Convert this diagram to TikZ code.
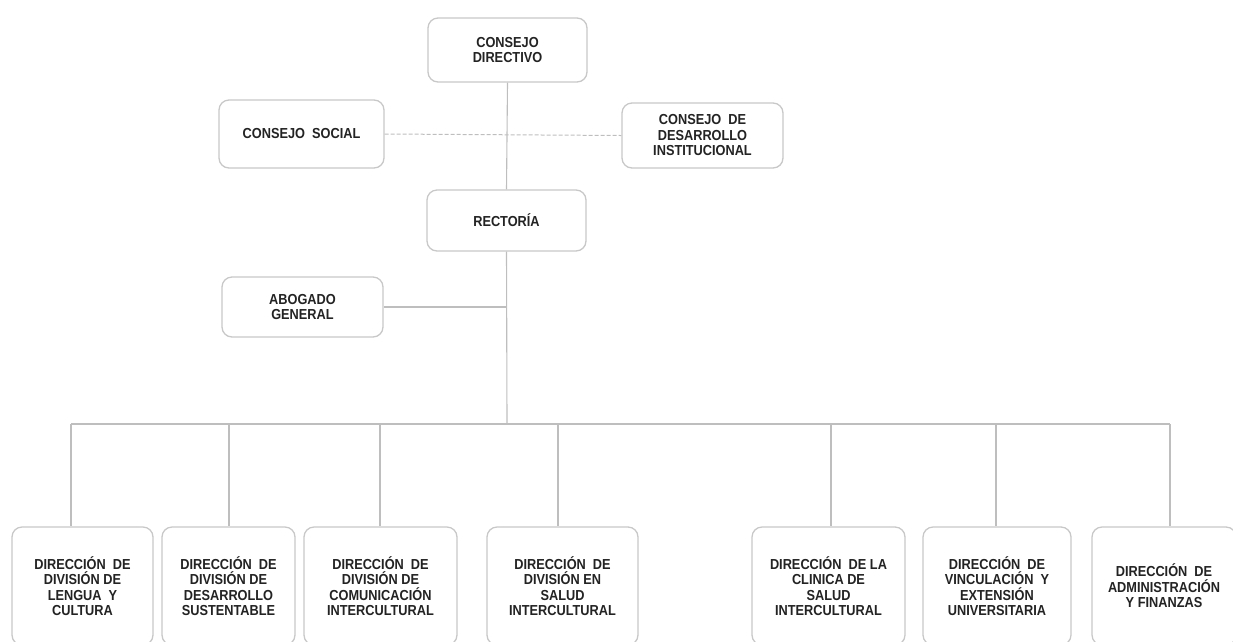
\documentclass[tikz,border=0pt]{standalone}
\usepackage{fontspec}
\newfontfamily\boxfont[FakeStretch=0.88]{Liberation Sans}
\definecolor{linegray}{RGB}{190,190,190}
\definecolor{boxgray}{RGB}{200,200,200}
\definecolor{txt}{RGB}{35,35,35}
\begin{document}
\begin{tikzpicture}[x=1pt,y=-1pt,
  orgbox/.style={draw=boxgray, line width=1.3pt, rounded corners=10pt, fill=white,
    align=center, inner sep=2pt, text=txt,
    font=\boxfont\bfseries\fontsize{14.5}{15.5}\selectfont},
  link/.style={draw=linegray, line width=1.1pt},
  dashlink/.style={draw=linegray, line width=1pt, dashed, dash pattern=on 4pt off 2pt}]
\useasboundingbox (0,0) rectangle (1233,641);
\clip (0,0) rectangle (1233,641);
% top level
\node[orgbox, minimum width=159pt, minimum height=64pt] (cd) at (507.5,50) {CONSEJO\\DIRECTIVO};
\node[orgbox, minimum width=165pt, minimum height=68pt] (cs) at (301.5,134) {CONSEJO\ \ SOCIAL};
\node[orgbox, minimum width=161pt, minimum height=65pt] (cdi) at (702.5,135.5) {CONSEJO\ \ DE\\DESARROLLO\\INSTITUCIONAL};
\node[orgbox, minimum width=159pt, minimum height=61pt] (rec) at (506.5,220.5) {RECTORÍA};
\node[orgbox, minimum width=161pt, minimum height=60pt] (abo) at (302.5,307) {ABOGADO\\GENERAL};
% bottom level
\node[orgbox, minimum width=141pt, minimum height=118pt] (b1) at (82.5,586) {DIRECCIÓN\ \ DE\\DIVISIÓN DE\\LENGUA\ \ Y\\CULTURA};
\node[orgbox, minimum width=133pt, minimum height=118pt] (b2) at (228.5,586) {DIRECCIÓN\ \ DE\\DIVISIÓN DE\\DESARROLLO\\SUSTENTABLE};
\node[orgbox, minimum width=153pt, minimum height=118pt] (b3) at (380.5,586) {DIRECCIÓN\ \ DE\\DIVISIÓN DE\\COMUNICACIÓN\\INTERCULTURAL};
\node[orgbox, minimum width=151pt, minimum height=118pt] (b4) at (562.5,586) {DIRECCIÓN\ \ DE\\DIVISIÓN EN\\SALUD\\INTERCULTURAL};
\node[orgbox, minimum width=153pt, minimum height=118pt] (b5) at (828.5,586) {DIRECCIÓN\ \ DE LA\\CLINICA DE\\SALUD\\INTERCULTURAL};
\node[orgbox, minimum width=148pt, minimum height=118pt] (b6) at (997,586) {DIRECCIÓN\ \ DE\\VINCULACIÓN\ \ Y\\EXTENSIÓN\\UNIVERSITARIA};
\node[orgbox, minimum width=144pt, minimum height=118pt] (b7) at (1164,586) {DIRECCIÓN\ \ DE\\ADMINISTRACIÓN\\Y FINANZAS};
% bus coordinates
\coordinate (busc) at (507,424);
\coordinate (d1) at (71,424);
\coordinate (d2) at (229,424);
\coordinate (d3) at (380,424);
\coordinate (d4) at (558,424);
\coordinate (d5) at (831,424);
\coordinate (d6) at (996,424);
\coordinate (d7) at (1170,424);
% connectors
\draw[link] (cd.south) -- (rec.north);
\draw[dashlink] (cs.east) -- (cdi.west);
\draw[link] (rec.south) -- (busc);
\draw[link] (abo.east) -- (abo.east -| rec.south);
\draw[link] (d1) -- (d7);
\draw[link] (d1) -- (b1.north -| d1);
\draw[link] (d2) -- (b2.north -| d2);
\draw[link] (d3) -- (b3.north -| d3);
\draw[link] (d4) -- (b4.north -| d4);
\draw[link] (d5) -- (b5.north -| d5);
\draw[link] (d6) -- (b6.north -| d6);
\draw[link] (d7) -- (b7.north -| d7);
\end{tikzpicture}
\end{document}
